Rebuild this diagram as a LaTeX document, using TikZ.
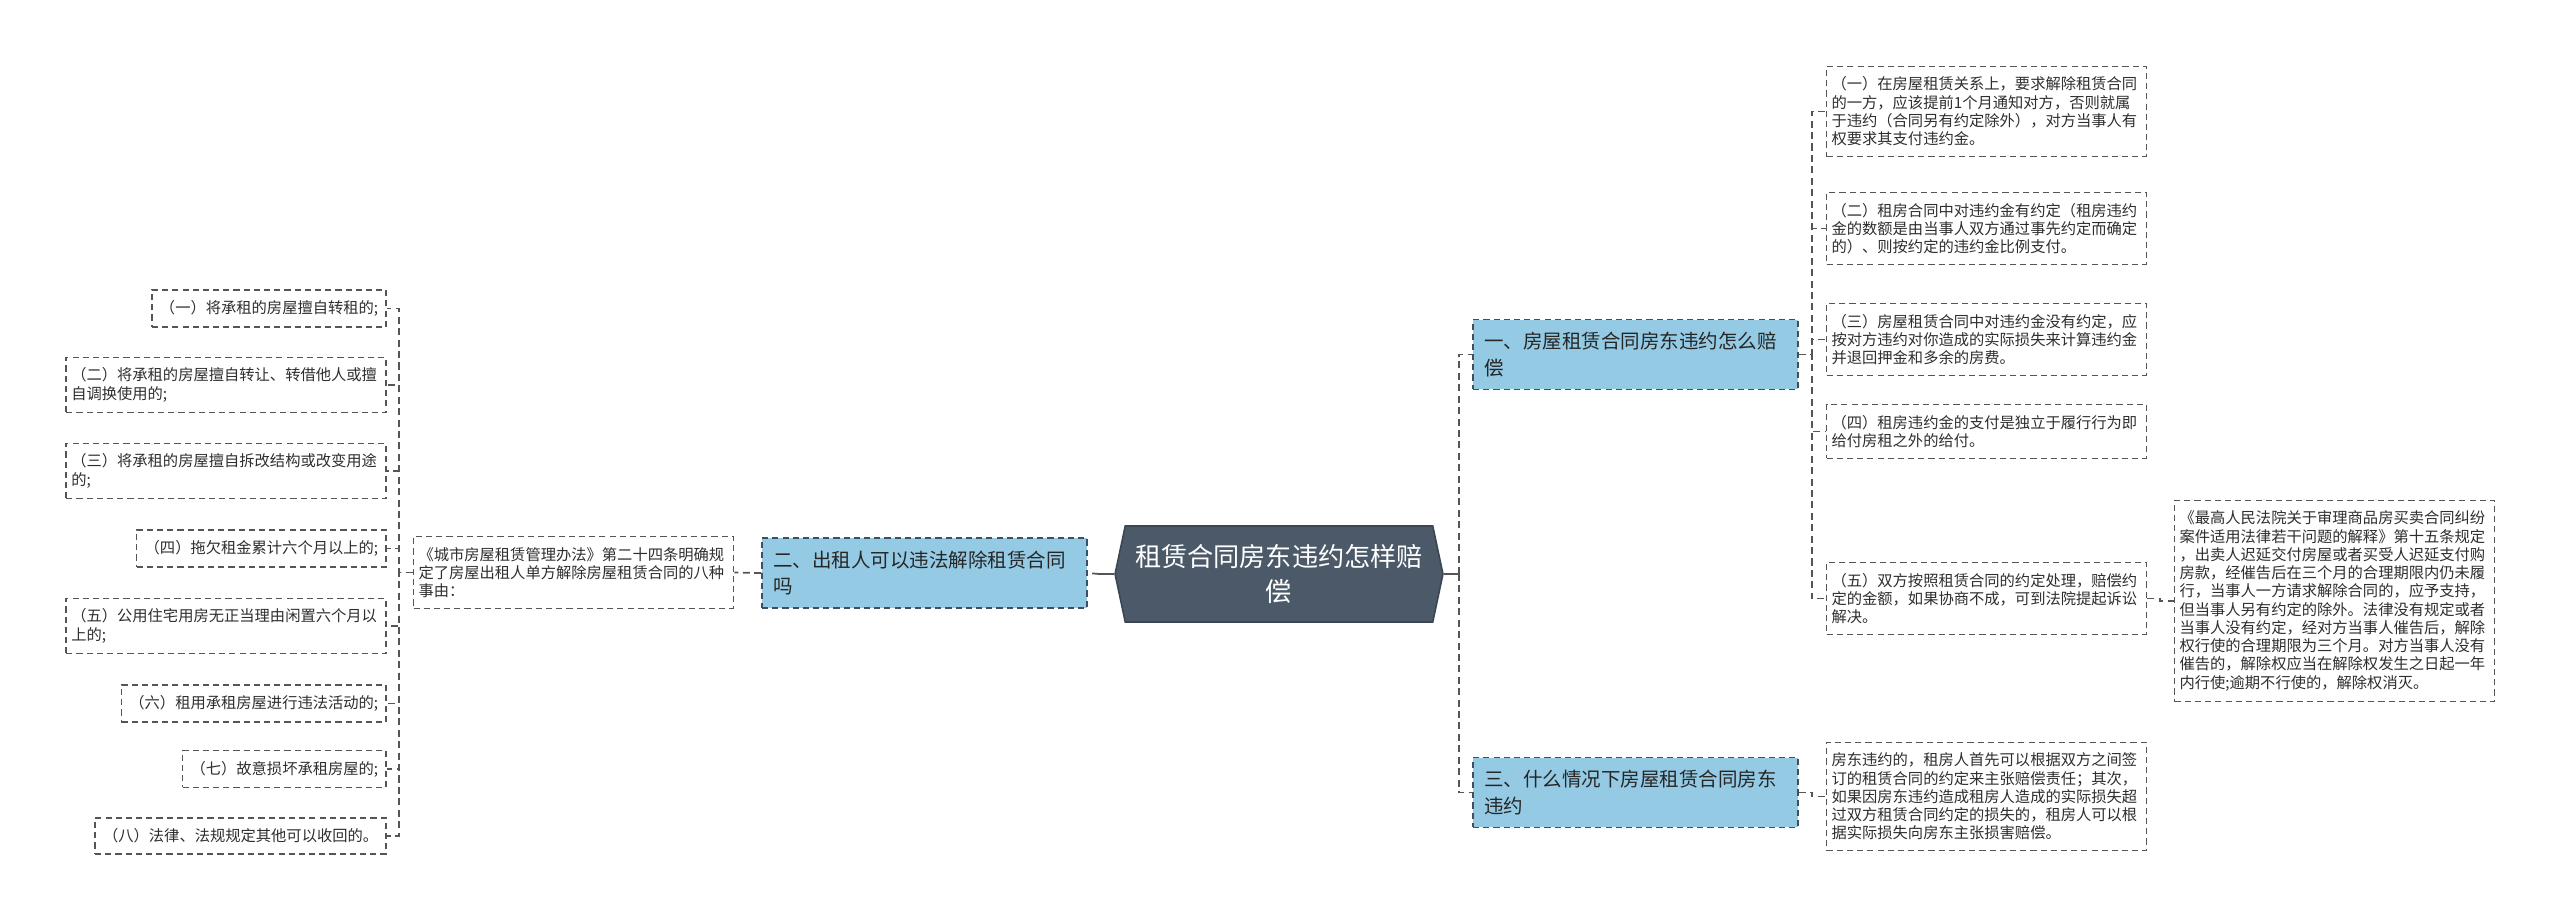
\documentclass[tikz,border=0pt]{standalone}
\usepackage{fontspec}
\newfontfamily\cjk{Noto Sans CJK SC}
\usetikzlibrary{shapes.symbols, positioning}
\usepackage{xcolor}
\definecolor{rootfill}{HTML}{4B5968}
\definecolor{rootline}{HTML}{3A4653}
\definecolor{branchfill}{HTML}{94CAE4}
\definecolor{branchline}{HTML}{3E4F5F}
\definecolor{leafline}{HTML}{555555}
\definecolor{leaftext}{HTML}{2E2E2E}
\definecolor{connline}{HTML}{555555}
\tikzstyle{leafbox}  = [draw=leafline, line width=0.9pt, dash pattern=on 3.5pt off 2.3pt, fill=white, text=leaftext, inner xsep=0.16cm, inner ysep=0.21cm, align=left, font=\cjk\fontsize{8.7pt}{10.4pt}\selectfont]
\tikzstyle{leaf}     = [leafbox, inner xsep=0.1cm, text width=6.2cm]
\tikzstyle{branch}   = [draw=branchline, line width=0.9pt, dash pattern=on 3.5pt off 2.3pt, fill=branchfill, text=black!85, minimum width=6.5cm, text width=6.05cm, inner ysep=0.25cm, align=left, font=\cjk\fontsize{11.1pt}{15.2pt}\selectfont]
\tikzstyle{rootnode} = [signal, signal to=east and west, signal pointer angle=156, draw=rootline, line width=0.9pt, fill=rootfill, text=white, minimum width=6.56cm, minimum height=1.92cm, align=center, font=\cjk\fontsize{14.9pt}{19.9pt}\selectfont]

\begin{document}
\begin{tikzpicture}[
        x=0.02cm, y=-0.02cm,
        conn/.style={
            draw=connline,
            line width=1pt,
            dash pattern=on 4pt off 2.5pt
        },
        stub/.style={
            draw=connline,
            line width=1pt
        }
    ]
        \useasboundingbox (0,0) rectangle (2560,922);

        % centre
        \node[rootnode] (root) at (1279,574) {租赁合同房东违约怎样赔\\偿};

        % branches
        \node[branch] (b1) at (1635.5,354.5) {一、房屋租赁合同房东违约怎么赔\\偿};
        \node[branch] (b2) at (924.5,573) {二、出租人可以违法解除租赁合同\\吗};
        \node[branch] (b3) at (1635.5,792.5) {三、什么情况下房屋租赁合同房东\\违约};

        % right side
        \node[leaf] (r1) at (1986.5,111.5) {（一）在房屋租赁关系上，要求解除租赁合同\\的一方，应该提前1个月通知对方，否则就属\\于违约（合同另有约定除外），对方当事人有\\权要求其支付违约金。};
        \node[leaf] (r2) at (1986.5,228.5) {（二）租房合同中对违约金有约定（租房违约\\金的数额是由当事人双方通过事先约定而确定\\的）、则按约定的违约金比例支付。};
        \node[leaf] (r3) at (1986.5,339.5) {（三）房屋租赁合同中对违约金没有约定，应\\按对方违约对你造成的实际损失来计算违约金\\并退回押金和多余的房费。};
        \node[leaf] (r4) at (1986.5,431.5) {（四）租房违约金的支付是独立于履行行为即\\给付房租之外的给付。};
        \node[leaf] (r5) at (1986.5,598.5) {（五）双方按照租赁合同的约定处理，赔偿约\\定的金额，如果协商不成，可到法院提起诉讼\\解决。};
        \node[leaf] (sub) at (2334.5,601) {《最高人民法院关于审理商品房买卖合同纠纷\\案件适用法律若干问题的解释》第十五条规定\\，出卖人迟延交付房屋或者买受人迟延支付购\\房款，经催告后在三个月的合理期限内仍未履\\行，当事人一方请求解除合同的，应予支持，\\但当事人另有约定的除外。法律没有规定或者\\当事人没有约定，经对方当事人催告后，解除\\权行使的合理期限为三个月。对方当事人没有\\催告的，解除权应当在解除权发生之日起一年\\内行使;逾期不行使的，解除权消灭。};
        \node[leaf] (rb3) at (1986.5,796.5) {房东违约的，租房人首先可以根据双方之间签\\订的租赁合同的约定来主张赔偿责任；其次，\\如果因房东违约造成租房人造成的实际损失超\\过双方租赁合同约定的损失的，租房人可以根\\据实际损失向房东主张损害赔偿。};

        % left side
        \node[leaf] (law) at (573.5,572.5) {《城市房屋租赁管理办法》第二十四条明确规\\定了房屋出租人单方解除房屋租赁合同的八种\\事由：};

        \node[leafbox, anchor=east] (l1) at (387,308.5) {（一）将承租的房屋擅自转租的;};
        \node[leaf, anchor=east] (l2) at (387,385) {（二）将承租的房屋擅自转让、转借他人或擅\\自调换使用的;};
        \node[leaf, anchor=east] (l3) at (387,471) {（三）将承租的房屋擅自拆改结构或改变用途\\的;};
        \node[leafbox, anchor=east] (l4) at (387,548.5) {（四）拖欠租金累计六个月以上的;};
        \node[leaf, anchor=east] (l5) at (387,626) {（五）公用住宅用房无正当理由闲置六个月以\\上的;};
        \node[leafbox, anchor=east] (l6) at (387,703.5) {（六）租用承租房屋进行违法活动的;};
        \node[leafbox, anchor=east] (l7) at (387,769) {（七）故意损坏承租房屋的;};
        \node[leafbox, anchor=east] (l8) at (387,836) {（八）法律、法规规定其他可以收回的。};

        % connectors
        \draw[stub] (root.east) -- ++(15,0) coordinate (rj);
        \draw[stub] (root.west) -- ++(-15,0) coordinate (lj);
        \draw[conn] (rj) |- (b1.west);
        \draw[conn] (rj) |- (b3.west);
        \draw[conn] (lj) -- (b2.east);

        \foreach \n in {r1,r2,r3,r4,r5} {
            \draw[conn] (b1.east) -- ++(13,0) |- (\n.west);
        }
        \draw[conn] (r5.east) -- ++(13,0) |- (sub.west);
        \draw[conn] (b3.east) -- ++(13,0) |- (rb3.west);

        \draw[conn] (b2.west) -- (law.east);
        \foreach \n in {l1,l2,l3,l4,l5,l6,l7,l8} {
            \draw[conn] (law.west) -- ++(-14,0) |- (\n.east);
        }

    \end{tikzpicture}
\end{document}
